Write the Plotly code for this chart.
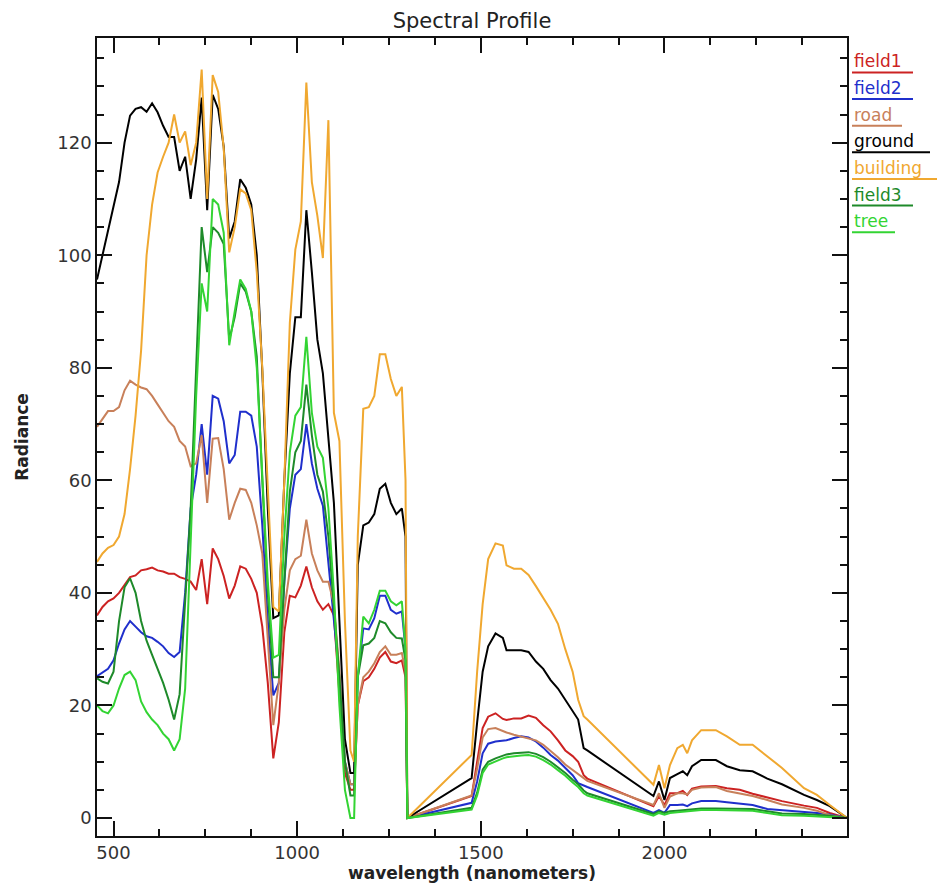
import plotly.graph_objects as go

wavelength = [455, 470, 485, 500, 515, 530, 545, 560, 575, 590, 605, 620, 635, 650, 665, 680, 695, 710, 725, 740,
              755, 770, 785, 800, 815, 830, 845, 860, 875, 890, 905, 920, 935, 950, 965, 980, 995, 1010, 1025, 1040,
              1055, 1070, 1085, 1100, 1115, 1130, 1145, 1155, 1165, 1180, 1195, 1210, 1225, 1240, 1255, 1270, 1285, 1295, 1300,
              1475, 1490, 1505, 1520, 1540, 1560, 1570, 1590, 1610, 1630, 1650, 1670, 1690, 1710, 1730, 1750, 1765, 1780, 1790,
              1970, 1985, 2000, 2015, 2035, 2050, 2062, 2075, 2100, 2140, 2170, 2205, 2240, 2280, 2320, 2380, 2415, 2450, 2497]

field1 = [36, 37.5, 38.5, 39, 40, 41.5, 42.8, 43.1, 44, 44.2, 44.5, 44, 43.8, 43.4, 43.4, 42.8, 42.5, 42, 40.5, 46,
          38, 47.9, 46, 43, 39, 41.3, 44.7, 44.3, 42.5, 40, 34, 24, 10.6, 17, 33, 39.5, 39.2, 41.3, 44.7, 41,
          38.5, 37, 38, 36, 22, 8, 5, 5, 20, 24.3, 25, 26.5, 28.5, 29.5, 27.8, 27.5, 28, 25, 0,
          3.9, 10, 16, 18, 18.6, 17.6, 17.4, 17.7, 17.7, 18.2, 17.8, 16.5, 15.4, 13.8, 12, 11, 10, 7.6, 7,
          2.1, 3.9, 2.3, 4.4, 4.4, 4.8, 4.1, 5.2, 5.6, 5.7, 5.3, 5, 4.3, 3.6, 3, 2.2, 1.8, 0.9, 0]

field2 = [25.2, 25.8, 26.5, 28, 31, 33.5, 35, 34, 33, 32.3, 32, 31.3, 30.5, 29.3, 28.6, 29.5, 40, 55, 61, 70,
          61, 75, 74.5, 70.5, 63, 64.5, 72.2, 72.2, 71.5, 66, 52, 35, 21.8, 24, 42, 55, 61, 62, 70, 63,
          58.5, 55.5, 45, 35, 25, 10, 6, 6, 25, 33.7, 33.5, 35.5, 39.5, 39.5, 37, 36.3, 36.7, 30, 0,
          2.7, 6.5, 11.5, 13.2, 13.6, 13.8, 13.8, 14.2, 14.5, 14.3, 13.6, 12.5, 11.2, 10.2, 8.9, 7.6, 6.2, 5.8, 5.5,
          0.9, 1.4, 0.9, 2.3, 2.3, 2.4, 2.1, 2.6, 3, 3, 2.8, 2.6, 2.3, 1.6, 1.4, 1, 0.9, 0.6, 0]

road = [69.5, 71, 72.3, 72.3, 73, 76, 77.7, 77, 76.5, 76.2, 75, 73.5, 72, 70.5, 69.5, 67, 66, 62.5, 63, 68,
        56, 67.4, 67.5, 62, 53, 56, 58.5, 58.3, 56, 52, 47, 32, 16.5, 24, 37, 44, 46, 46.6, 53, 47,
        44, 42, 42, 38, 26, 10, 6, 6, 20, 25, 26, 27.5, 29.5, 30.5, 29, 29, 29.3, 26, 0,
        4, 8.8, 14.3, 15.8, 16, 15.4, 15.2, 14.8, 14.5, 14.2, 13.8, 13, 11.9, 10.8, 9.5, 8.5, 7.8, 7, 6.6,
        2.3, 4.4, 1.8, 3.8, 4.4, 4.4, 4.2, 5, 5.4, 5.5, 4.8, 4.4, 3.9, 3.2, 2.4, 1.8, 1.3, 0.5, 0]

ground = [95.7, 100, 104.5, 108.5, 113, 120, 124.8, 126, 126.3, 125.5, 127, 125.4, 123, 121, 121, 115, 117.5, 110, 117, 128,
          108, 128.5, 126, 119.3, 103, 106, 113.5, 112, 109, 100, 79.5, 55, 35.5, 36, 60, 79, 89, 89, 108, 97,
          85, 79, 68, 56, 35, 14, 8, 8, 45, 52, 52.5, 54, 58.5, 59.4, 56, 54, 55, 50, 0,
          7.1, 17, 26, 30.5, 32.8, 32, 29.8, 29.8, 29.8, 29.5, 27.8, 26.5, 24.5, 23, 21, 19, 17.5, 12.4, 12,
          3.9, 6.5, 3.2, 7.1, 7.8, 8.3, 7.6, 9.2, 10.3, 10.3, 9.2, 8.5, 8.3, 7, 6, 4.1, 3.2, 2.1, 0]

building = [45.5, 47, 48, 48.5, 50, 54, 62, 71.5, 83, 100, 109, 114.7, 117.5, 120, 125, 120, 122, 116, 120, 133,
            110, 132, 129, 119, 100.5, 105, 111.7, 111, 108, 97, 80, 60, 37.5, 36.7, 60, 88, 101, 106, 130.7, 113,
            107, 99.5, 124, 72, 67, 35, 12, 10, 50, 72.7, 73, 75, 82.4, 82.4, 78, 75, 76.6, 60, 0,
            11.2, 26, 38, 46, 48.8, 48.4, 44.9, 44.3, 44.3, 43.2, 41.2, 39, 37, 34.5, 30, 26, 21, 18.1, 17.5,
            5.9, 9.4, 5.3, 9.4, 12.4, 13, 11.5, 13.8, 15.6, 15.6, 14.5, 13, 13, 11, 8.9, 5.3, 4.1, 2.3, 0]

field3 = [24.8, 24.2, 23.9, 26, 35, 41, 42.6, 40, 35, 31.5, 29, 26.6, 24, 21, 17.5, 22, 38, 55, 80, 105,
          97, 105, 104, 102, 85, 89, 95, 93.5, 90, 82, 60, 40, 25, 25, 42, 58, 65, 67, 77, 68,
          61, 58, 50, 38, 25, 10, 4, 4, 25, 30.7, 31, 32, 35, 34.6, 33, 32, 31.9, 28, 0,
          1.8, 4.5, 8.6, 10, 10.6, 11.1, 11.3, 11.5, 11.6, 11.7, 11.4, 10.8, 10, 9, 8, 6.8, 6, 4.9, 4.4,
          0.7, 1.2, 0.9, 1.2, 1.3, 1.4, 1.5, 1.6, 1.7, 1.7, 1.7, 1.7, 1.6, 1.2, 0.8, 0.7, 0.6, 0.4, 0]

tree = [20, 19, 18.6, 20, 23, 25.4, 26, 24.5, 20.7, 18.8, 17.5, 16.5, 15, 14, 12, 14, 23, 50, 75, 95,
        90, 110, 109, 104, 84, 90, 95.7, 94, 90, 80, 60, 42, 28.5, 29, 50, 65, 71.5, 73, 85.5, 72,
        66, 64, 55, 40, 20, 5, 0, 0, 25, 35.8, 34.6, 37, 40.4, 40.4, 38.5, 37.8, 38.5, 30, 0,
        1.5, 4, 8, 9.5, 10.1, 10.6, 10.8, 11, 11.1, 11.2, 10.9, 10.3, 9.5, 8.5, 7.5, 6.3, 5.5, 4.4, 4,
        0.4, 0.9, 0.6, 0.9, 1, 1.1, 1.2, 1.3, 1.4, 1.4, 1.4, 1.4, 1.3, 0.9, 0.5, 0.4, 0.3, 0.2, 0]

names = ["field1", "field2", "road", "ground", "building", "field3", "tree"]
colors = ["#cc2222", "#1f2fcc", "#c8805a", "#000000", "#f0a830", "#1e8a2a", "#33d433"]
series = [field1, field2, road, ground, building, field3, tree]

fig = go.Figure()
for name, col, vals in zip(names, colors, series):
    fig.add_trace(go.Scatter(x=wavelength, y=vals, mode="lines", name=name,
                             line=dict(color=col, width=2), showlegend=False))

# legend as coloured, underlined text to the right of the plot
L, R, T, B = 97, 90, 38, 51
W, H = 937, 889
pw, ph = W - L - R, H - T - B
leg_top = 61.5
leg_step = 26.7
under_w = [61, 61, 50, 78, 85, 61, 43]
ann = []
shapes = []
for i, (name, col) in enumerate(zip(names, colors)):
    yc = leg_top + i * leg_step
    ann.append(dict(text=name, xref="paper", yref="paper", x=(852 - L) / pw, y=(H - B - yc) / ph,
                    xanchor="left", yanchor="middle", showarrow=False,
                    font=dict(family="DejaVu Sans", size=17, color=col)))
    yl = yc + 11
    shapes.append(dict(type="line", xref="paper", yref="paper",
                       x0=(852 - L) / pw, x1=(852 + under_w[i] - L) / pw,
                       y0=(H - B - yl) / ph, y1=(H - B - yl) / ph,
                       line=dict(color=col, width=2)))

fig.update_layout(
    width=W, height=H,
    margin=dict(l=L, r=R, t=T, b=B),
    paper_bgcolor="white", plot_bgcolor="white",
    title=dict(text="Spectral Profile", x=(472) / W, xanchor="center", y=1 - 21 / H, yanchor="middle",
               font=dict(family="DejaVu Sans", size=21, color="#222222")),
    annotations=ann, shapes=shapes,
    font=dict(family="DejaVu Sans", color="#222222"),
)
fig.update_xaxes(range=[455, 2497], tick0=500, dtick=500, ticks="inside", ticklen=15, tickwidth=1.5,
                 tickcolor="#111", showline=True, linecolor="#111", linewidth=1.5, mirror="allticks",
                 showgrid=False, zeroline=False,
                 minor=dict(dtick=125, tick0=500, ticks="inside", ticklen=7, tickcolor="#111", tickwidth=1.5),
                 tickfont=dict(family="DejaVu Sans", size=18, color="#333"),
                 title=dict(text="<b>wavelength (nanometers)</b>", standoff=2,
                            font=dict(family="DejaVu Sans", size=17, color="#222")))
fig.update_yaxes(range=[-3.2, 138.6], tick0=0, dtick=20, ticks="inside", ticklen=15, tickwidth=1.5,
                 tickcolor="#111", showline=True, linecolor="#111", linewidth=1.5, mirror="allticks",
                 showgrid=False, zeroline=False,
                 minor=dict(dtick=5, tick0=0, ticks="inside", ticklen=7, tickcolor="#111", tickwidth=1.5),
                 tickfont=dict(family="DejaVu Sans", size=18, color="#333"),
                 title=dict(text="<b>Radiance</b>", standoff=24,
                            font=dict(family="DejaVu Sans", size=17, color="#222")))

fig.write_html("out.html", config={"displayModeBar": False},
               post_script="document.body.style.margin='0px';")
